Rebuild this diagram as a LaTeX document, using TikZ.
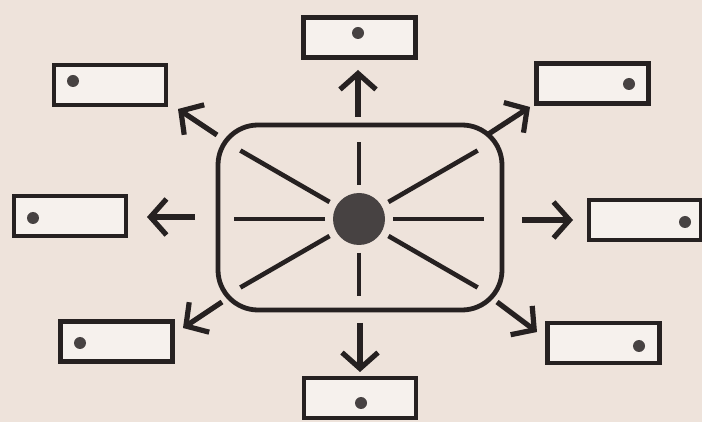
\documentclass[tikz,border=0pt]{standalone}
\usetikzlibrary{arrows.meta,calc}
\definecolor{paper}{RGB}{238,227,219}
\definecolor{ink}{RGB}{38,33,33}
\begin{document}
\begin{tikzpicture}[
		x=0.5pt, y=-0.5pt,
		every node/.style={draw=ink, line width=2.4pt, inner sep=0pt},
		slot/.style={rectangle, fill=paper!50!white, minimum width=56pt, minimum height=20pt},
		pip/.style={circle, fill=ink!85, draw=none, minimum size=6pt},
		spoke/.style={ink, line width=2.3pt},
		push/.style={ink, line width=2.6pt, -{Straight Barb[length=8pt, width=18pt]}}
	]
		\fill[paper] (0,0) rectangle (702,422);
		\useasboundingbox (0,0) rectangle (702,422);
		
		% central unit with its hub
		\node[rectangle, rounded corners=20pt, minimum width=142pt, minimum height=92.5pt] (unit) at (360,217.5) {};
		\node[circle, fill=ink!85, draw=none, minimum size=26pt] (core) at (359,219) {};
		\foreach \ang/\len in {0/125, 30/137, 90/77, 150/137, 180/125, 210/137, 270/77, 330/137}
			\draw[spoke] ($(core.center)+(\ang:34)$) -- ($(core.center)+(\ang:\len)$);
		
		% outer slots
		\node[slot] (sN) at (359.5,37.5) {};
		\node[slot] (sNW) at (110,85) {};
		\node[slot] (sNE) at (592.5,83.5) {};
		\node[slot] (sW) at (70,216) {};
		\node[slot] (sE) at (645,220) {};
		\node[slot] (sSW) at (116.5,341.5) {};
		\node[slot] (sSE) at (603.5,343) {};
		\node[slot] (sS) at (360,398) {};
		
		\node[pip] (pN) at (358,33) {};
		\node[pip] (pNW) at (73,81) {};
		\node[pip] (pNE) at (629,84) {};
		\node[pip] (pW) at (33,218) {};
		\node[pip] (pE) at (685,222) {};
		\node[pip] (pSW) at (80,343) {};
		\node[pip] (pSE) at (639,346) {};
		\node[pip] (pS) at (361,403) {};
		
		% arrows leaving the unit
		\coordinate (aN) at (358,117);  \coordinate (bN) at (358,70);
		\coordinate (aNW) at (217,135); \coordinate (bNW) at (178,109);
		\coordinate (aNE) at (487,135); \coordinate (bNE) at (530,107);
		\coordinate (aW) at (195,217);  \coordinate (bW) at (147,217);
		\coordinate (aE) at (522,220);  \coordinate (bE) at (573,220);
		\coordinate (aSW) at (222,302); \coordinate (bSW) at (183,328);
		\coordinate (aSE) at (497,302); \coordinate (bSE) at (537,332);
		\coordinate (aS) at (360,323);  \coordinate (bS) at (360,372);
		\foreach \d in {N,NW,NE,W,E,SW,SE,S}
			\draw[push] (a\d) -- (b\d);
	\end{tikzpicture}
\end{document}
